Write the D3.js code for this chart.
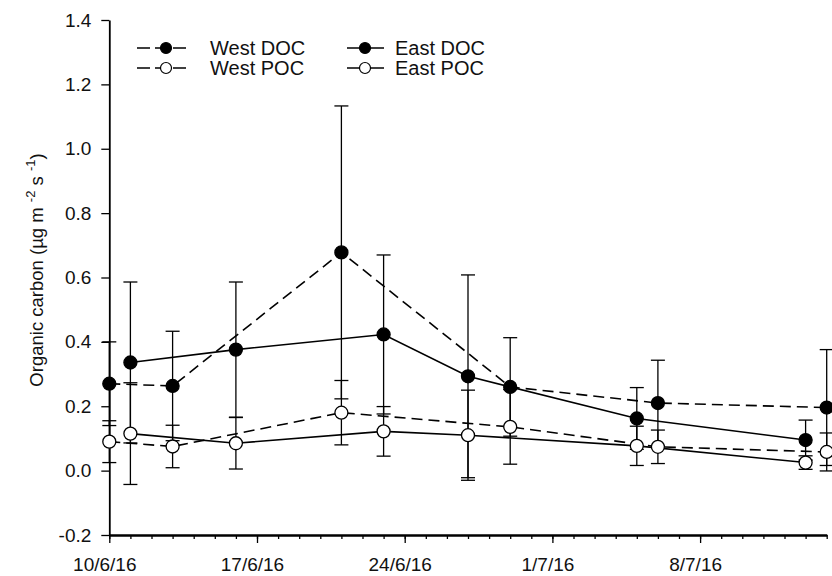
<!DOCTYPE html>
<html>
<head>
<meta charset="utf-8">
<script src="https://cdn.jsdelivr.net/npm/d3@7"></script>
<style>
body { margin: 0; background: #fff; }
svg { display: block; font-family: "Liberation Sans", Arial, sans-serif; }
</style>
</head>
<body>
<div id="chart"></div>
<script>
// sampling dates
const westDates = ["2016-06-10", "2016-06-13", "2016-06-21", "2016-06-29", "2016-07-06", "2016-07-14"];
const eastDates = ["2016-06-11", "2016-06-16", "2016-06-23", "2016-06-27", "2016-07-05", "2016-07-13"];

// means and error (half length of bars)
const westDOC = [0.270, 0.263, 0.678, 0.260, 0.210, 0.196];
const westDOCerr = [0.130, 0.170, 0.455, 0.153, 0.133, 0.180];
const westPOC = [0.090, 0.075, 0.180, 0.136, 0.074, 0.058];
const westPOCerr = [0.065, 0.066, 0.100, 0.116, 0.052, 0.059];
const eastDOC = [0.336, 0.376, 0.423, 0.293, 0.162, 0.095];
const eastDOCerr = [0.250, 0.210, 0.247, 0.315, 0.096, 0.062];
const eastPOC = [0.115, 0.085, 0.122, 0.110, 0.077, 0.025];
const eastPOCerr = [0.158, 0.080, 0.077, 0.140, 0.061, 0.021];

const yTicks = [-0.2, 0.0, 0.2, 0.4, 0.6, 0.8, 1.0, 1.2, 1.4];
const xTickDates = ["2016-06-10", "2016-06-17", "2016-06-24", "2016-07-01", "2016-07-08"];

const width = 832, height = 576;
const parse = d3.timeParse("%Y-%m-%d");

const svg = d3.select("#chart")
	.append("svg")
	.attr("width", width)
	.attr("height", height);

const x = d3.scaleTime()
	.domain([parse("2016-06-10"), parse("2016-07-14")])
	.range([109.3, 826.7]);

const y = d3.scaleLinear()
	.domain([-0.2, 1.4])
	.range([535, 20]);

// build series
function makeSeries(dates, vals, errs) {
	return dates.map((d, i) => ({ date: parse(d), v: vals[i], e: errs[i] }));
}
const series = [
	{ name: "West DOC", data: makeSeries(westDates, westDOC, westDOCerr), dash: "11,6", fill: "#000" },
	{ name: "West POC", data: makeSeries(westDates, westPOC, westPOCerr), dash: "11,6", fill: "#fff" },
	{ name: "East DOC", data: makeSeries(eastDates, eastDOC, eastDOCerr), dash: null, fill: "#000" },
	{ name: "East POC", data: makeSeries(eastDates, eastPOC, eastPOCerr), dash: null, fill: "#fff" }
];

// axes
const minor = d3.axisBottom(x)
	.ticks(d3.timeDay.every(1))
	.tickSize(4)
	.tickSizeOuter(0)
	.tickFormat("");
svg.append("g")
	.attr("transform", "translate(0,535)")
	.call(minor);

const major = d3.axisBottom(x)
	.tickValues(xTickDates.map(parse))
	.tickSize(8)
	.tickSizeOuter(0)
	.tickPadding(15)
	.tickFormat(d3.timeFormat("%-d/%-m/%y"));
const gx = svg.append("g")
	.attr("transform", "translate(0,535)")
	.call(major);
gx.selectAll("text").attr("dx", -5);

const gy = svg.append("g")
	.attr("transform", "translate(109.3,0)")
	.call(d3.axisLeft(y)
		.tickValues(yTicks)
		.tickSize(8)
		.tickSizeOuter(0)
		.tickPadding(10)
		.tickFormat(d => d.toFixed(1)));

svg.selectAll(".domain").attr("stroke", "#000").attr("stroke-width", 1.8);
svg.selectAll(".tick line").attr("stroke", "#000").attr("stroke-width", 1.3);
svg.selectAll(".tick text").attr("font-size", 19).attr("fill", "#111")
	.attr("font-family", "Liberation Sans, Arial, sans-serif");

// y title
const title = svg.append("text")
	.attr("transform", "translate(43,270) rotate(-90)")
	.attr("text-anchor", "middle")
	.attr("font-size", 18.5)
	.attr("fill", "#111");
title.append("tspan").text("Organic carbon (µg m ");
title.append("tspan").attr("dy", -8).attr("font-size", 13).text("-2");
title.append("tspan").attr("dy", 8).text(" s ");
title.append("tspan").attr("dy", -8).attr("font-size", 13).text("-1");
title.append("tspan").attr("dy", 8).text(")");

// lines
const line = d3.line()
	.x(d => x(d.date))
	.y(d => y(d.v));

series.forEach(s => {
	svg.append("path")
		.datum(s.data)
		.attr("fill", "none")
		.attr("stroke", "#000")
		.attr("stroke-width", 1.6)
		.attr("stroke-dasharray", s.dash)
		.attr("d", line);
});

// error bars
series.forEach(s => {
	const g = svg.append("g")
		.attr("stroke", "#000")
		.attr("stroke-width", 1.3);
	s.data.forEach(d => {
		const cx = x(d.date);
		g.append("line")
			.attr("x1", cx).attr("x2", cx)
			.attr("y1", y(d.v - d.e)).attr("y2", y(d.v + d.e));
		[d.v - d.e, d.v + d.e].forEach(v => {
			g.append("line")
				.attr("x1", cx - 7).attr("x2", cx + 7)
				.attr("y1", y(v)).attr("y2", y(v));
		});
	});
});

// markers
series.forEach(s => {
	svg.append("g")
		.selectAll("circle")
		.data(s.data)
		.enter().append("circle")
		.attr("cx", d => x(d.date))
		.attr("cy", d => y(d.v))
		.attr("r", 6.5)
		.attr("fill", s.fill)
		.attr("stroke", "#000")
		.attr("stroke-width", 1.3);
});

// legend
const legendPos = [
	{ x1: 137, x2: 190, xm: 166, xt: 210, y: 48 },
	{ x1: 137, x2: 190, xm: 166, xt: 210, y: 68 },
	{ x1: 347, x2: 384, xm: 365, xt: 395, y: 48 },
	{ x1: 347, x2: 384, xm: 365, xt: 395, y: 68 }
];
series.forEach((s, i) => {
	const p = legendPos[i];
	const g = svg.append("g");
	g.append("line")
		.attr("x1", p.x1).attr("x2", p.x2)
		.attr("y1", p.y).attr("y2", p.y)
		.attr("stroke", "#000")
		.attr("stroke-width", 1.6)
		.attr("stroke-dasharray", s.dash ? "13,5" : null);
	g.append("circle")
		.attr("cx", p.xm).attr("cy", p.y)
		.attr("r", 5.5)
		.attr("fill", s.fill)
		.attr("stroke", "#000")
		.attr("stroke-width", 1.2);
	g.append("text")
		.attr("x", p.xt).attr("y", p.y)
		.attr("dy", "0.35em")
		.attr("font-size", 20)
		.attr("fill", "#111")
		.text(s.name);
});
</script>
</body>
</html>
